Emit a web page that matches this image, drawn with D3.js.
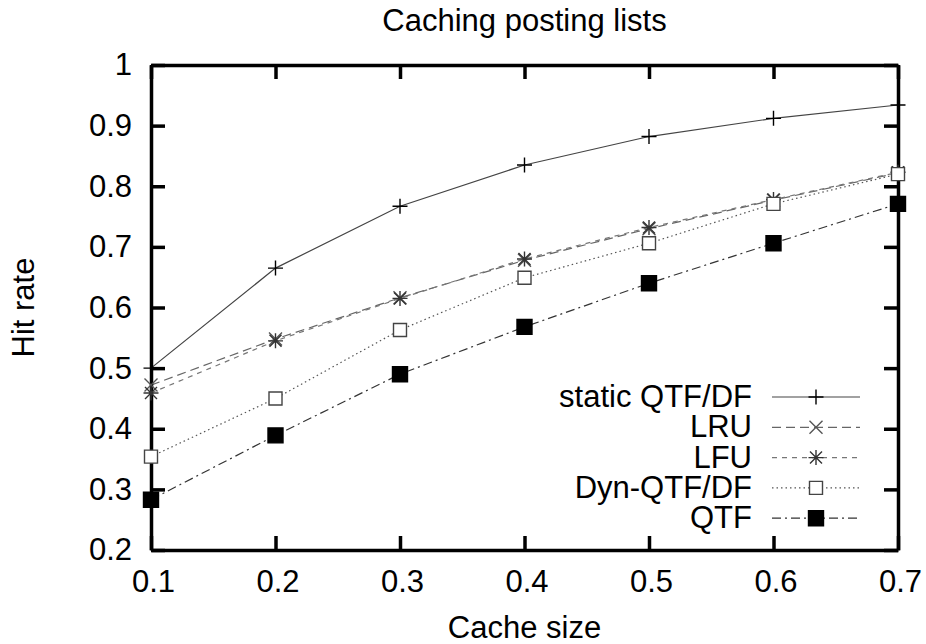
<!DOCTYPE html>
<html>
<head>
<meta charset="utf-8">
<script src="https://cdn.jsdelivr.net/npm/d3@7"></script>
<style>
  body { margin: 0; background: #fff; }
  svg text { font-family: "Liberation Sans", Arial, sans-serif; fill: #000; }
</style>
</head>
<body>
<div id="container"></div>
<script>
const cacheSizes = [0.1, 0.2, 0.3, 0.4, 0.5, 0.6, 0.7];
const staticQtfDf = [0.5, 0.665, 0.767, 0.835, 0.882, 0.912, 0.934];
const lru = [0.472, 0.548, 0.616, 0.678, 0.73, 0.777, 0.822];
const lfu = [0.459, 0.545, 0.615, 0.68, 0.732, 0.778, 0.823];
const dynQtfDf = [0.354, 0.45, 0.563, 0.649, 0.706, 0.771, 0.82];
const qtf = [0.283, 0.389, 0.49, 0.568, 0.64, 0.706, 0.771];
const seriesNames = ["static QTF/DF", "LRU", "LFU", "Dyn-QTF/DF", "QTF"];
const xTicks = [0.1, 0.2, 0.3, 0.4, 0.5, 0.6, 0.7];
const yTicks = [0.2, 0.3, 0.4, 0.5, 0.6, 0.7, 0.8, 0.9, 1];

const W = 926, H = 644;
const margin = { top: 65, right: 28, bottom: 94, left: 151 };
const width = W - margin.left - margin.right,
  height = H - margin.top - margin.bottom;
const fontSize = "31px";

// marker shapes drawn as strokes, gnuplot style
const marker = {
  plus: (s) => `M${-s},0H${s}M0,${-s}V${s}`,
  times: (s) => `M${-s},${-s}L${s},${s}M${-s},${s}L${s},${-s}`,
  star: (s) => `M${-s},0H${s}M0,${-s}V${s}M${-s * 0.8},${-s * 0.8}L${s * 0.8},${s * 0.8}M${-s * 0.8},${s * 0.8}L${s * 0.8},${-s * 0.8}`,
  square: (s) => `M${-s},${-s}H${s}V${s}H${-s}Z`,
};

const series = [
  { name: seriesNames[0], values: staticQtfDf, dash: null, line: "#444", mk: "plus", size: 7.5, mcol: "#000", fill: "none" },
  { name: seriesNames[1], values: lru, dash: "9,5", line: "#666", mk: "times", size: 6.5, mcol: "#555", fill: "none" },
  { name: seriesNames[2], values: lfu, dash: "5,5", line: "#777", mk: "star", size: 7.5, mcol: "#333", fill: "none" },
  { name: seriesNames[3], values: dynQtfDf, dash: "1.5,3", line: "#555", mk: "square", size: 6.5, mcol: "#444", fill: "#fff" },
  { name: seriesNames[4], values: qtf, dash: "9,4,2,4", line: "#333", mk: "square", size: 7.5, mcol: "#000", fill: "#000" },
];

const svg = d3
  .select("#container")
  .append("svg")
  .attr("width", W)
  .attr("height", H);

const g = svg
  .append("g")
  .attr("transform", `translate(${margin.left},${margin.top})`);

const xScale = d3.scaleLinear().domain([0.1, 0.7]).range([0, width]);
const yScale = d3.scaleLinear().domain([0.2, 1]).range([height, 0]);

// axes: ticks point inward on all four sides
const styleAxis = (sel) => {
  sel.selectAll("path.domain").attr("stroke-width", 3.5).attr("stroke", "#000");
  sel.selectAll(".tick line").attr("stroke-width", 3.5).attr("stroke", "#000");
  sel.selectAll(".tick text").attr("font-size", fontSize).attr("fill", "#000");
};

// series lines and markers
const line = d3
  .line()
  .x((d, i) => xScale(cacheSizes[i]))
  .y((d) => yScale(d));

series.forEach((s) => {
  g.append("path")
    .datum(s.values)
    .attr("fill", "none")
    .attr("stroke", s.line)
    .attr("stroke-width", 1.2)
    .attr("stroke-dasharray", s.dash)
    .attr("d", line);
});

g.append("g")
  .attr("transform", `translate(0,${height})`)
  .call(d3.axisBottom(xScale).tickValues(xTicks).tickSizeInner(-14).tickSizeOuter(0).tickPadding(20).tickFormat(d3.format(".1f")))
  .call(styleAxis)
  .call((a) => a.selectAll(".tick text").attr("dx", "2"));
g.append("g")
  .call(d3.axisTop(xScale).tickValues(xTicks).tickSizeInner(-14).tickSizeOuter(0).tickFormat(""))
  .call(styleAxis);
g.append("g")
  .call(d3.axisLeft(yScale).tickValues(yTicks).tickSizeInner(-14).tickSizeOuter(0).tickPadding(19).tickFormat((d) => (d === 1 ? "1" : d3.format(".1f")(d))))
  .call(styleAxis);
g.append("g")
  .attr("transform", `translate(${width},0)`)
  .call(d3.axisRight(yScale).tickValues(yTicks).tickSizeInner(-14).tickSizeOuter(0).tickFormat(""))
  .call(styleAxis);

series.forEach((s) => {
  g.selectAll(null)
    .data(s.values)
    .enter()
    .append("path")
    .attr("transform", (d, i) => `translate(${xScale(cacheSizes[i])},${yScale(d)})`)
    .attr("d", marker[s.mk](s.size))
    .attr("fill", s.fill)
    .attr("stroke", s.mcol)
    .attr("stroke-width", 1.4);
});

// legend
const legend = g
  .append("g")
  .selectAll("g")
  .data(series)
  .enter()
  .append("g")
  .attr("transform", (d, i) => `translate(0,${342 + i * 30.3})`);
legend
  .append("text")
  .attr("x", 601)
  .attr("y", 0)
  .attr("font-size", fontSize)
  .attr("text-anchor", "end")
  .text((d) => d.name);
legend
  .append("path")
  .attr("d", "M621,-10H709")
  .attr("stroke", (d) => d.line)
  .attr("stroke-width", 1.2)
  .attr("stroke-dasharray", (d) => d.dash);
legend
  .append("path")
  .attr("transform", "translate(665,-10)")
  .attr("d", (d) => marker[d.mk](d.size))
  .attr("fill", (d) => d.fill)
  .attr("stroke", (d) => d.mcol)
  .attr("stroke-width", 1.4);

// titles
svg
  .append("text")
  .attr("x", margin.left + width / 2)
  .attr("y", 31)
  .attr("font-size", fontSize)
  .attr("text-anchor", "middle")
  .text("Caching posting lists");
svg
  .append("text")
  .attr("x", margin.left + width / 2)
  .attr("y", 638)
  .attr("font-size", fontSize)
  .attr("text-anchor", "middle")
  .text("Cache size");
svg
  .append("text")
  .attr("transform", `translate(34,${margin.top + height / 2}) rotate(-90)`)
  .attr("font-size", fontSize)
  .attr("text-anchor", "middle")
  .text("Hit rate");
</script>
</body>
</html>
